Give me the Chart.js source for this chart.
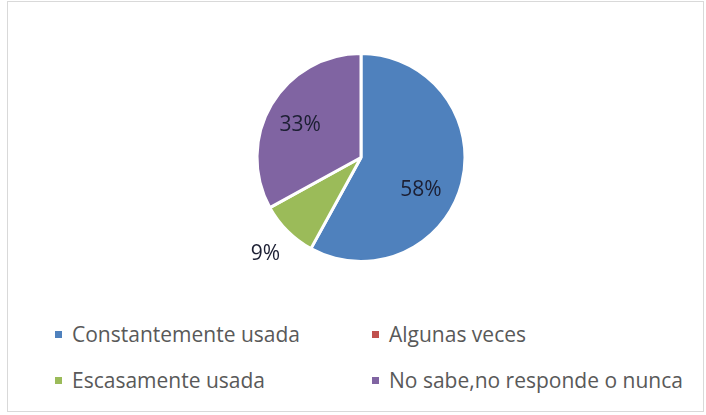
<!DOCTYPE html>
<html>
<head>
<meta charset="utf-8">
<script src="https://cdn.jsdelivr.net/npm/chart.js@4/dist/chart.umd.min.js"></script>
<style>
  html, body { margin: 0; padding: 0; background: #fff; }
  #wrap { position: relative; width: 706px; height: 415px; overflow: hidden; }
  #frame { position: absolute; left: 7px; top: 1px; width: 697px; height: 411px; border: 1px solid #d9d9d9; box-sizing: border-box; }
  #pie { position: absolute; left: 0; top: 0; }
  .leg { position: absolute; font: 21px "Open Sans", sans-serif; color: #595959; white-space: nowrap; line-height: 22px; }
  .leg i { position: absolute; width: 7px; height: 7px; top: 8px; left: 0; }
  .leg span { position: absolute; left: 17px; top: 0; }
</style>
</head>
<body>
<div id="wrap">
  <div id="frame"></div>
  <canvas id="pie" width="706" height="300"></canvas>
  <div id="legend"></div>
</div>
<script>
const categories = ['Constantemente usada', 'Algunas veces', 'Escasamente usada', 'No sabe,no responde o nunca'];
const percentages = [58, 0, 9, 33];
const sliceColors = ['#4F81BD', '#C0504D', '#9BBB59', '#8064A2'];

// label placement: fraction of radius, extra angle (deg)
const labelPlace = [
  { r: 0.65, turn: 13 },
  { r: 0.65, turn: 0 },
  { r: 1.30, turn: 0 },
  { r: 0.67, turn: -1.5 }
];

const pctLabels = {
  id: 'pctLabels',
  afterDatasetsDraw(chart) {
    const { ctx } = chart;
    const meta = chart.getDatasetMeta(0);
    ctx.save();
    ctx.font = '21px "Open Sans", sans-serif';
    ctx.fillStyle = '#1c1f33';
    ctx.textAlign = 'center';
    ctx.textBaseline = 'middle';
    meta.data.forEach((arc, i) => {
      const v = percentages[i];
      if (!v) return;
      const p = arc.getProps(['x', 'y', 'startAngle', 'endAngle', 'outerRadius']);
      const mid = (p.startAngle + p.endAngle) / 2 + labelPlace[i].turn * Math.PI / 180;
      const rr = p.outerRadius * labelPlace[i].r;
      ctx.fillText(v + '%', p.x + Math.cos(mid) * rr, p.y + Math.sin(mid) * rr + 1);
    });
    ctx.restore();
  }
};

new Chart(document.getElementById('pie'), {
  type: 'pie',
  data: {
    labels: categories,
    datasets: [{
      data: percentages,
      backgroundColor: sliceColors,
      borderColor: '#fff',
      borderWidth: 3
    }]
  },
  options: {
    responsive: false,
    animation: false,
    layout: { padding: { left: 255, right: 239, top: 52, bottom: 37 } },
    plugins: { legend: { display: false }, tooltip: { enabled: false } }
  },
  plugins: [pctLabels]
});

// legend, two columns
const legend = document.getElementById('legend');
const colX = [55, 372];
const rowY = [323, 369];
categories.forEach((name, i) => {
  const d = document.createElement('div');
  d.className = 'leg';
  d.style.left = colX[i % 2] + 'px';
  d.style.top = rowY[Math.floor(i / 2)] + 'px';
  d.innerHTML = '<i style="background:' + sliceColors[i] + '"></i><span></span>';
  d.querySelector('span').textContent = name;
  legend.appendChild(d);
});
</script>
</body>
</html>
